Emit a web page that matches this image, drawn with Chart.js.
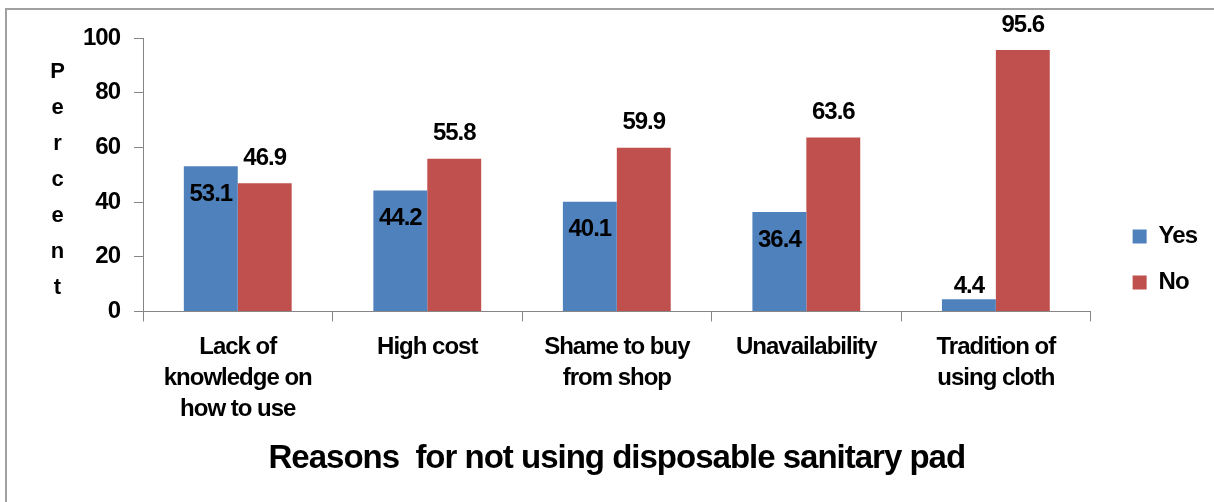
<!DOCTYPE html>
<html>
<head>
<meta charset="utf-8">
<script src="https://cdn.jsdelivr.net/npm/chart.js@4.4.0/dist/chart.umd.min.js"></script>
<style>
  html, body { margin: 0; padding: 0; background: #fff; }
  canvas { display: block; }
</style>
</head>
<body>
<canvas id="chart" width="1214" height="502"></canvas>
<script>
const categories = [
  ["Lack of", "knowledge on", "how to use"],
  "High cost",
  ["Shame to buy", "from shop"],
  "Unavailability",
  ["Tradition of", "using cloth"],
];
const yesValues = [53.1, 44.2, 40.1, 36.4, 4.4];
const noValues = [46.9, 55.8, 59.9, 63.6, 95.6];
const yTicks = [0, 20, 40, 60, 80, 100];
const yTitle = "Percent";
const xTitle = "Reasons  for not using disposable sanitary pad";

const family = "'Liberation Sans', Arial, sans-serif";
const axisGray = "#868686";

// tight text like the original export
const textSpacing = {
  id: "textSpacing",
  beforeUpdate(chart) {
    chart.ctx.letterSpacing = "-1px";
  },
  beforeDraw(chart) {
    const ctx = chart.ctx;
    ctx.letterSpacing = "-1px";
    ctx.save();
    ctx.strokeStyle = "#a0a0a0";
    ctx.lineWidth = 2;
    ctx.strokeRect(6, 9, 1400, 700);
    ctx.restore();
  },
  afterLayout(chart) {
    chart.legend.top += 5;
    chart.legend.bottom += 5;
  },
};

const valueLabels = {
  id: "valueLabels",
  afterDatasetsDraw(chart) {
    const ctx = chart.ctx;
    ctx.save();
    ctx.font = "bold 24px " + family;
    ctx.fillStyle = "#000";
    ctx.textAlign = "center";
    ctx.textBaseline = "middle";
    chart.data.datasets.forEach((ds, di) => {
      chart.getDatasetMeta(di).data.forEach((bar, i) => {
        let y;
        if (di === 0 && bar.base - bar.y > 40) y = bar.y + 28;
        else y = bar.y - (di === 0 ? 13 : 25);
        ctx.fillText(ds.data[i].toFixed(1), bar.x, y);
      });
    });
    ctx.restore();
  },
};

// y title is stacked letter by letter
const stackedTitle = {
  id: "stackedTitle",
  afterDraw(chart) {
    const ctx = chart.ctx;
    ctx.save();
    ctx.font = "bold 22px " + family;
    ctx.fillStyle = "#000";
    ctx.textAlign = "center";
    ctx.textBaseline = "middle";
    yTitle.split("").forEach((ch, i) => {
      ctx.fillText(ch, 57, 72 + i * 36);
    });
    ctx.restore();
  },
};

new Chart(document.getElementById("chart"), {
  type: "bar",
  data: {
    labels: categories,
    datasets: [
      {
        label: "Yes",
        data: yesValues,
        backgroundColor: "#4F81BD",
        categoryPercentage: 0.569,
        barPercentage: 1,
      },
      {
        label: "No",
        data: noValues,
        backgroundColor: "#C0504D",
        categoryPercentage: 0.569,
        barPercentage: 1,
      },
    ],
  },
  options: {
    responsive: false,
    animation: false,
    layout: { padding: { left: 0, right: 7, top: 38, bottom: 23 } },
    plugins: {
      tooltip: { enabled: false },
      legend: {
        position: "right",
        align: "end",
        fullSize: false,
        labels: {
          boxWidth: 14,
          boxHeight: 14,
          padding: 22,
          color: "#000",
          font: { family, size: 24, weight: "bold" },
        },
      },
      title: {
        display: true,
        position: "bottom",
        fullSize: false,
        text: xTitle,
        color: "#000",
        font: { family, size: 33, weight: "bold" },
        padding: { top: 8, bottom: 0 },
      },
    },
    scales: {
      x: {
        grid: {
          offset: true,
          drawOnChartArea: false,
          tickLength: 10,
          color: axisGray,
        },
        border: { color: axisGray, width: 1 },
        ticks: {
          color: "#000",
          padding: 10,
          maxRotation: 0,
          autoSkip: false,
          font: { family, size: 24, weight: "bold", lineHeight: 1.3 },
        },
        afterFit(s) {
          s.height = 120;
        },
      },
      y: {
        min: 0,
        max: 100,
        grid: { drawOnChartArea: false, tickLength: 9, color: axisGray },
        border: { color: axisGray, width: 1 },
        ticks: {
          color: "#000",
          padding: 14,
          font: { family, size: 24, weight: "bold" },
        },
        afterBuildTicks(s) {
          s.ticks = yTicks.map((v) => ({ value: v }));
        },
        afterFit(s) {
          s.width = 143;
        },
      },
      yr: {
        type: "linear",
        position: "right",
        grid: { display: false },
        border: { display: false },
        ticks: { display: false },
        afterFit(s) {
          s.width = 20;
        },
      },
    },
  },
  plugins: [textSpacing, valueLabels, stackedTitle],
});
</script>
</body>
</html>
